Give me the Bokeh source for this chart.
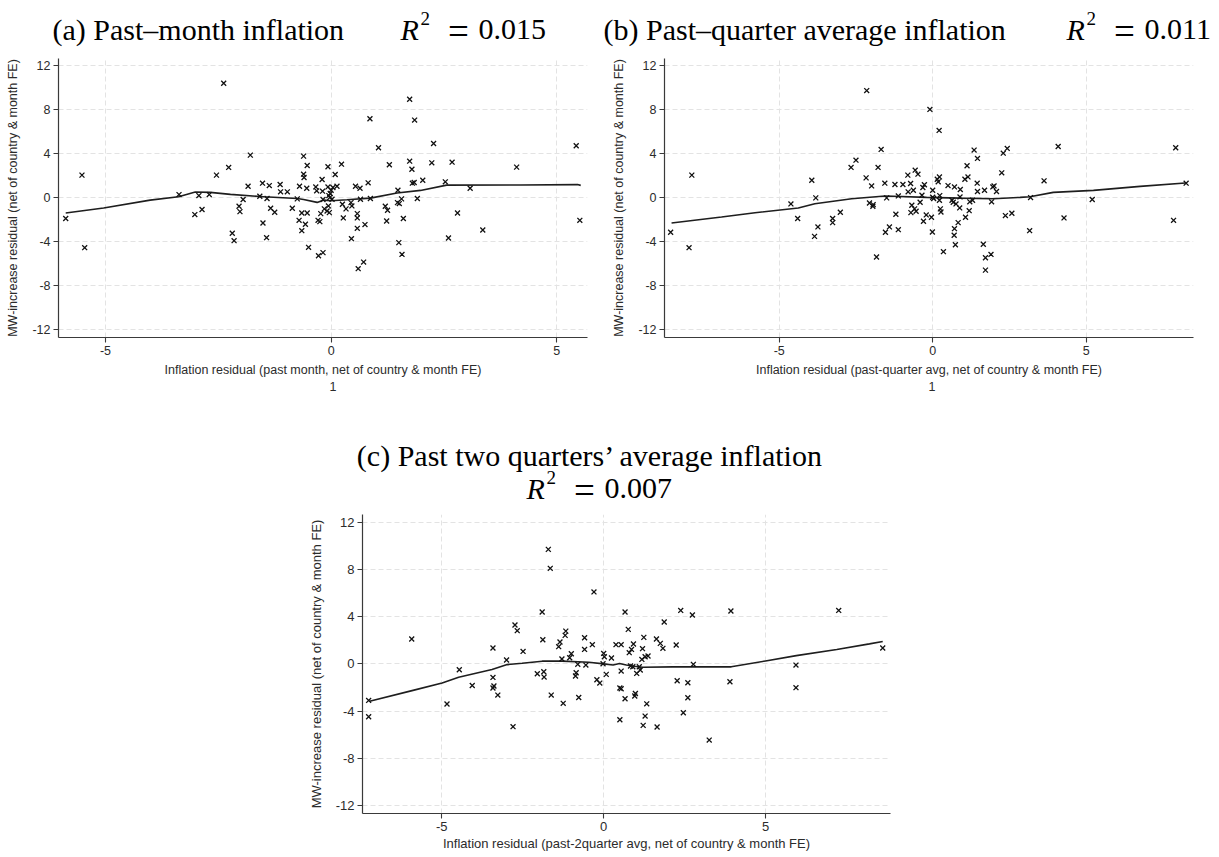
from bokeh.plotting import figure
from bokeh.models import Range1d, FixedTicker, Title, Spacer, CustomJSTickFormatter
from bokeh.layouts import column, row
from bokeh.core.properties import value
from bokeh.embed import file_html
from bokeh.resources import INLINE

# ---------------- (a) past-month inflation ----------------
a_x = [-5.88, -5.52, -5.46, -2.38, -3.37, -3.02, -2.93, -2.86, -2.70, -2.54,
       -2.27, -2.19, -2.15, -2.04, -2.02, -1.95, -1.84, -1.79, -1.58, -1.52,
       -1.51, -1.42, -1.43, -1.37, -1.34, -1.25, -1.13, -1.12, -0.97, -0.86,
       -0.75, -0.70, -0.71, -0.65, -0.65, -0.61, -0.61, -0.60, -0.57, -0.54,
       -0.53, -0.53, -0.50, -0.34, -0.32, -0.28, -0.18, -0.29, -0.25, -0.23,
       -0.20, -0.19, -0.18, -0.15, -0.09, -0.07, -0.07, -0.06, -0.05, -0.04,
       -0.03, -0.02, 0.00, 0.02, 0.04, 0.09, 0.13, 0.23, 0.25, 0.27,
       0.33, 0.44, 0.45, 0.46, 0.54, 0.58, 0.58, 0.58, 0.60, 0.64,
       0.65, 0.72, 0.75, 0.82, 0.86, 0.87, 1.05, 1.20, 1.23, 1.25,
       1.29, 1.47, 1.48, 1.50, 1.51, 1.56, 1.57, 1.60, 1.74, 1.74,
       1.79, 1.80, 1.84, 1.85, 1.91, 2.03, 2.23, 2.27, 2.53, 2.60,
       2.68, 2.80, 3.08, 3.36, 4.11, 5.43, 5.51]
a_y = [-1.88, 2.07, -4.53, 10.43, 0.30, -1.52, 0.21, -1.06, 0.30, 2.07,
       2.77, -3.22, -3.89, -0.76, -1.25, -0.15, 1.06, 3.89, 0.15, 1.34,
       -2.28, -0.06, -3.62, 1.12, -0.94, -1.31, 1.22, 0.55, 0.55, -0.94,
       -0.09, 1.06, -2.04, -2.98, -1.37, 3.80, 2.16, 1.85, -2.40, 0.88,
       2.95, -1.37, -4.50, 1.00, 0.64, -5.26, -4.98, -2.04, -2.16, -1.43,
       1.67, 0.61, -0.15, -1.00, -1.19, 2.83, 1.00, -0.73, 0.21, -1.34,
       0.03, 0.40, 0.70, -0.12, 0.94, 2.13, 1.06, 3.07, -0.58, -1.82,
       -1.00, -0.43, -3.71, -0.73, 1.06, -1.43, -1.82, -2.77, -6.44, 0.88,
       -0.12, -5.84, -2.43, 1.37, 7.20, -0.06, 4.56, -0.76, -2.10, -1.12,
       3.01, -0.43, 0.70, -4.07, -0.52, -0.09, -5.14, -1.88, 8.97, 3.34,
       2.61, 1.34, 1.40, 7.08, -0.06, 1.61, 3.19, 4.95, 1.46, -3.65,
       3.25, -1.37, 0.88, -2.92, 2.80, 4.74, -2.04]
a_fit_x = [-5.88, -5.04, -4.01, -3.38, -3.01, -2.68, -2.23, -1.49, -0.75, -0.61,
           -0.31, -0.16, 0.00, 0.35, 0.87, 1.46, 1.98, 2.56, 4.20, 5.46, 5.53]
a_fit_y = [-1.38, -0.92, -0.20, 0.11, 0.53, 0.50, 0.32, 0.10, -0.05, -0.14,
           -0.41, -0.20, -0.26, -0.17, -0.02, 0.45, 0.68, 1.16, 1.17, 1.21, 1.14]

# ---------------- (b) past-quarter average inflation ----------------
b_x = [-8.54, -7.94, -7.85, -4.62, -4.40, -3.94, -3.85, -3.81, -3.74, -3.26,
       -3.26, -3.01, -2.66, -2.50, -2.15, -2.17, -2.06, -1.99, -1.95, -1.94,
       -1.83, -1.78, -1.68, -1.56, -1.54, -1.50, -1.41, -1.23, -1.20, -1.12,
       -1.12, -0.97, -0.81, -0.80, -0.72, -0.71, -0.68, -0.63, -0.59, -0.57,
       -0.54, -0.48, -0.41, -0.35, -0.32, -0.30, -0.27, -0.21, -0.09, -0.04,
       -0.01, 0.00, 0.00, 0.03, 0.15, 0.18, 0.21, 0.22, 0.22, 0.23,
       0.25, 0.27, 0.35, 0.50, 0.63, 0.67, 0.70, 0.71, 0.71, 0.74,
       0.76, 0.83, 0.88, 0.89, 0.90, 1.07, 1.05, 1.12, 1.15, 1.19,
       1.21, 1.30, 1.35, 1.46, 1.45, 1.46, 1.65, 1.69, 1.72, 1.72,
       1.90, 1.92, 1.96, 2.00, 2.08, 2.25, 2.30, 2.37, 2.43, 2.58,
       3.19, 3.16, 3.63, 4.09, 4.28, 5.20, 7.85, 7.92, 8.26]
b_y = [-3.13, -4.53, 2.07, -0.55, -1.88, 1.61, -3.50, 0.00, -2.64, -1.88,
       -2.25, -1.31, 2.77, 3.43, 9.76, 1.82, -0.46, 1.09, -0.76, -0.61,
       -5.38, 2.77, 4.41, 1.34, -3.13, 0.00, -2.64, 1.22, -1.49, -2.89,
       0.18, 1.22, 2.07, 0.55, 1.31, -1.34, -0.67, 0.70, -1.00, 2.52,
       -1.22, 2.16, -0.40, 0.24, 0.94, -2.13, 1.19, -1.55, 8.05, -1.76,
       -3.10, 0.70, 0.06, -0.06, 1.70, 1.46, 6.14, 1.91, -0.21, 0.21,
       -1.00, -1.28, -4.89, 1.12, -0.21, -0.40, -3.40, 1.00, -2.80, -4.26,
       -0.55, -2.25, -0.91, 0.09, 0.76, -1.76, 1.70, 2.92, 1.91, -1.16,
       -0.36, -0.21, 4.35, 3.59, 1.34, 0.58, -4.22, 0.70, -5.44, -6.57,
       -5.14, -0.36, 1.00, 1.09, 0.58, 2.28, 4.07, -1.61, 4.50, -1.40,
       0.03, -2.98, 1.55, 4.68, -1.82, -0.15, -2.04, 4.56, 1.34]
b_fit_x = [-8.51, -6.88, -5.79, -4.38, -3.84, -2.64, -1.55, -0.20, 0.89, 1.98,
           2.85, 3.17, 3.93, 5.24, 6.76, 8.23]
b_fit_y = [-2.29, -1.74, -1.35, -0.92, -0.53, -0.08, 0.17, 0.05, -0.02, -0.08,
           0.05, 0.10, 0.50, 0.68, 1.05, 1.35]

# ---------------- (c) past two quarters' average inflation ----------------
c_x = [-7.26, -7.26, -5.93, -4.84, -4.46, -4.06, -3.42, -3.42, -3.39, -3.42,
       -3.27, -3.00, -2.80, -2.74, -2.67, -2.49, -2.05, -1.90, -1.88, -1.85,
       -1.84, -1.71, -1.65, -1.62, -1.39, -1.35, -1.29, -1.25, -1.19, -1.17,
       -1.05, -1.00, -0.87, -0.85, -0.80, -0.77, -0.59, -0.59, -0.55, -0.35,
       -0.30, -0.21, -0.12, -0.02, 0.00, 0.02, 0.08, 0.24, 0.38, 0.54,
       0.54, 0.50, 0.54, 0.50, 0.66, 0.66, 0.76, 0.79, 0.83, 0.86,
       0.90, 0.92, 0.96, 0.98, 1.02, 1.10, 1.13, 1.18, 1.20, 1.22,
       1.24, 1.28, 1.28, 1.33, 1.37, 1.63, 1.65, 1.75, 1.83, 1.87,
       2.24, 2.27, 2.38, 2.46, 2.60, 2.60, 2.74, 2.77, 3.26, 3.90,
       3.93, 5.94, 5.94, 7.26, 8.62]
c_y = [-3.10, -4.49, 2.11, -3.41, -0.50, -1.83, 1.35, -1.15, -1.88, -2.05,
       -2.65, 0.33, -5.33, 3.30, 2.82, 1.06, -0.84, 4.40, 2.05, -0.67,
       -1.12, 9.72, 8.11, -2.65, 1.46, 1.86, 0.41, -3.35, 2.42, 2.78,
       0.52, 0.86, -1.03, -0.75, -0.04, -2.85, 2.22, 1.23, -0.10, 1.63,
       6.11, -1.35, -1.63, 0.01, 0.89, 0.61, -0.89, 0.50, 1.63, 1.63,
       -0.61, -2.05, -2.11, -4.74, 4.40, -2.96, 2.93, 0.95, -0.18, 1.23,
       -0.24, 1.69, -2.73, -2.51, -0.81, -0.24, -0.52, 0.38, 1.29, -5.22,
       2.25, -4.43, 0.61, -3.39, 0.67, 2.11, -5.36, 1.74, 1.32, 3.56,
       1.60, -1.43, 4.54, -4.15, -1.60, -2.87, 4.15, -0.04, -6.47, -1.52,
       4.49, -0.10, -2.02, 4.54, 1.35]
c_fit_x = [-7.23, -5.92, -4.99, -4.48, -3.45, -2.98, -2.52, -1.90, -1.29, -0.46,
           0.00, 0.29, 0.49, 0.70, 0.94, 1.21, 2.13, 3.94, 5.00, 5.95, 7.20,
           8.21, 8.62]
c_fit_y = [-3.18, -2.27, -1.62, -1.13, -0.48, -0.06, 0.06, 0.23, 0.23, 0.14,
           0.00, -0.09, 0.04, -0.10, -0.20, -0.28, -0.25, -0.25, 0.25, 0.70, 1.22,
           1.70, 1.90]

y_ticks = [-12, -8, -4, 0, 4, 8, 12]
x_ticks = [-5, 0, 5]
y_title = "MW-increase residual (net of country & month FE)"

SANS = "Liberation Sans"
SERIF = "Liberation Serif"
INK = "#2b2b2b"
AXIS = "#3a3a3a"

plain_int = CustomJSTickFormatter(code="return tick.toFixed(0);")


def panel(xs, ys, fx, fy, xr, width, height, borders, xlabel, fs, title_gap, note=None):
    left, right, top, bottom = borders
    p = figure(width=width, height=height, output_backend="svg", toolbar_location=None,
               x_range=Range1d(*xr), y_range=Range1d(-12.7, 12.68),
               min_border_left=left, min_border_right=right,
               min_border_top=top, min_border_bottom=bottom)
    p.outline_line_color = None
    p.background_fill_color = "white"
    p.border_fill_color = "white"

    p.xaxis.ticker = FixedTicker(ticks=x_ticks)
    p.yaxis.ticker = FixedTicker(ticks=y_ticks)
    for ax in (p.xaxis, p.yaxis):
        ax.formatter = plain_int
        ax.minor_tick_line_color = None
        ax.major_tick_out = 5
        ax.major_tick_in = 0
        ax.axis_line_color = AXIS
        ax.axis_line_width = 1.2
        ax.major_tick_line_color = AXIS
        ax.major_tick_line_width = 1.1
        ax.major_label_text_font = SANS
        ax.major_label_text_font_size = f"{fs}px"
        ax.major_label_text_color = INK
        ax.axis_label_text_font = SANS
        ax.axis_label_text_font_size = f"{fs}px"
        ax.axis_label_text_font_style = "normal"
        ax.axis_label_text_color = INK
    p.yaxis.major_label_orientation = "horizontal"
    p.xaxis.major_label_standoff = 3
    p.yaxis.major_label_standoff = 3
    p.xaxis.axis_label = xlabel
    p.yaxis.axis_label = y_title
    p.xaxis.axis_label_standoff = title_gap
    p.yaxis.axis_label_standoff = 9

    p.grid.grid_line_color = "#e3e3e3"
    p.grid.grid_line_dash = "5 3"
    p.grid.grid_line_width = 1

    p.line(fx, fy, line_color="#1e1e1e", line_width=1.6)
    p.scatter(xs, ys, marker="x", size=7, line_color="#111111", line_width=1.3)

    if note is not None:
        text, offset = note
        p.add_layout(Title(text=text, align="left", offset=offset, text_font=SANS,
                           text_font_size=f"{fs}px", text_font_style="normal",
                           text_color=INK, standoff=1), "below")
    return p


def strip(height, y_top):
    """A bare canvas whose data units are page pixels, for the serif captions."""
    s = figure(width=1219, height=height, output_backend="svg", toolbar_location=None,
               x_range=Range1d(0, 1219), y_range=Range1d(y_top + height, y_top),
               min_border=0, x_axis_location=None, y_axis_location=None)
    s.grid.visible = False
    s.outline_line_color = None
    s.background_fill_color = "white"
    s.border_fill_color = "white"
    return s


def caption(s, x, y, text, size, style="normal", align="left"):
    s.text(x=[x], y=[y], text=[text], text_font=value(SERIF),
           text_font_size=value(f"{size}px"), text_font_style=style,
           text_color="black", text_align=align, text_baseline="alphabetic")


def r_squared(s, x, y, stat):
    """Italic R, raised 2, a wide equals sign and the statistic."""
    caption(s, x, y, "R", 30, "italic")
    caption(s, x + 20, y - 11, "2", 19)
    caption(s, x + 58, y + 1.5, "=", 37, align="center")
    caption(s, x + 78, y, stat, 30)


# captions above the top row
top = strip(50, 0)
caption(top, 52, 29, "(a) Past\u2013month inflation", 30)
r_squared(top, 400, 29, "0.015")
caption(top, 603, 29, "(b) Past\u2013quarter average inflation", 30)
r_squared(top, 1066, 29, "0.011")

pa = panel(a_x, a_y, a_fit_x, a_fit_y, (-6.04, 5.68), 600, 350, (58, 13, 8, 63),
           "Inflation residual (past month, net of country & month FE)", 12.5, 5,
           note=("1", 271))
pb = panel(b_x, b_y, b_fit_x, b_fit_y, (-8.74, 8.50), 619, 350, (64, 26, 8, 63),
           "Inflation residual (past-quarter avg, net of country & month FE)", 12.5, 5,
           note=("1", 264))

# captions above the bottom panel
mid = strip(110, 400)
caption(mid, 590, 455, "(c) Past two quarters\u2019 average inflation", 30, align="center")
r_squared(mid, 526, 488, "0.007")

pc = panel(c_x, c_y, c_fit_x, c_fit_y, (-7.45, 8.86), 619, 347, (62, 29, 4, 44),
           "Inflation residual (past-2quarter avg, net of country & month FE)", 13, 2)

layout = column(top, row(pa, pb), mid, row(Spacer(width=300, height=347), pc))

open("out.html", "w").write(file_html(layout, INLINE))
